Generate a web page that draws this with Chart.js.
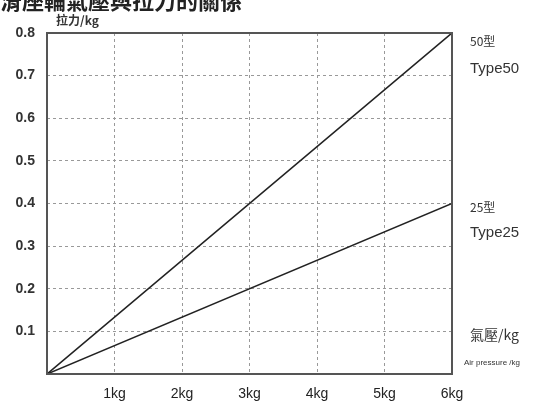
<!DOCTYPE html>
<html>
<head>
<meta charset="utf-8">
<script src="https://cdn.jsdelivr.net/npm/chart.js@4"></script>
<style>
  html, body { margin: 0; padding: 0; background: #fff; }
  #wrap { width: 533px; height: 401px; }
</style>
</head>
<body>
<div id="wrap"><canvas id="forceChart"></canvas></div>
<script>
// air pressure (kg) vs pulling force (kg)
const pressure = [0, 6];
const type50 = [0, 0.8];
const type25 = [0, 0.4];
const xTicks = ["", "1kg", "2kg", "3kg", "4kg", "5kg", "6kg"];

const cjk = '"Noto Sans CJK TC", "Noto Sans CJK SC", sans-serif';

// outline + side labels + title
const decor = {
  id: "decor",
  afterDraw(chart) {
    const c = chart.ctx;
    const a = chart.chartArea;
    const y = chart.scales.y;
    c.save();
    c.strokeStyle = "#555";
    c.lineWidth = 2;
    c.strokeRect(a.left, a.top, a.right - a.left, a.bottom - a.top);

    c.fillStyle = "#222";
    c.textBaseline = "alphabetic";
    c.font = "bold 22px " + cjk;
    c.fillText("滑座輪氣壓與拉力的關係", 0, 9);

    c.fillStyle = "#333";
    c.font = "bold 12px " + cjk;
    c.fillText("拉力/kg", 56, 25);

    const lx = a.right + 18;
    c.font = "12px " + cjk;
    c.fillText("50型", lx, y.getPixelForValue(0.8) + 13);
    c.fillText("25型", lx, y.getPixelForValue(0.4) + 8);
    c.font = "15px Arial, sans-serif";
    c.fillText("Type50", lx, y.getPixelForValue(0.7) - 3);
    c.fillText("Type25", lx, y.getPixelForValue(0.3) - 9);
    c.font = "14px " + cjk;
    c.fillText("氣壓/kg", lx, y.getPixelForValue(0.1) + 9);
    c.font = "8px Arial, sans-serif";
    c.fillText("Air pressure /kg", lx - 6, y.getPixelForValue(0) - 9);
    c.restore();
  }
};

document.addEventListener("DOMContentLoaded", function () {
  const ctx = document.getElementById("forceChart").getContext("2d");

  new Chart(ctx, {
    type: "line",
    plugins: [decor],
    data: {
      datasets: [
        {
          label: "Type50",
          data: pressure.map((p, i) => ({ x: p, y: type50[i] })),
          borderColor: "#222",
          borderWidth: 1.6,
          pointRadius: 0,
          fill: false,
        },
        {
          label: "Type25",
          data: pressure.map((p, i) => ({ x: p, y: type25[i] })),
          borderColor: "#222",
          borderWidth: 1.6,
          pointRadius: 0,
          fill: false,
        },
      ],
    },
    options: {
      responsive: true,
      maintainAspectRatio: false,
      animation: false,
      layout: { padding: { top: 33, right: 81, left: 0, bottom: 0 } },
      plugins: {
        legend: { display: false },
        title: { display: false },
        tooltip: { enabled: false },
      },
      scales: {
        x: {
          type: "linear",
          min: 0,
          max: 6,
          afterFit(s) { s.height = 27; },
          grid: {
            color: (c) => (c.tick && c.tick.value > 0 && c.tick.value < 6 ? "#999" : "rgba(0,0,0,0)"),
            drawTicks: false,
          },
          border: { display: false, dash: [3, 3] },
          ticks: {
            stepSize: 1,
            padding: 12,
            color: "#222",
            font: { size: 14, family: "Arial, sans-serif" },
            callback: (v) => xTicks[v],
          },
        },
        y: {
          min: 0,
          max: 0.8,
          afterFit(s) { s.width = 47; },
          grid: {
            color: (c) => (c.tick && c.tick.value > 0.01 && c.tick.value < 0.79 ? "#999" : "rgba(0,0,0,0)"),
            drawTicks: false,
          },
          border: { display: false, dash: [3, 3] },
          ticks: {
            stepSize: 0.1,
            padding: 12,
            color: "#333",
            font: { size: 14, weight: "bold", family: "Arial, sans-serif" },
            callback: (v) => (v === 0 ? "" : v.toFixed(1)),
          },
        },
      },
    },
  });
});
</script>
</body>
</html>
